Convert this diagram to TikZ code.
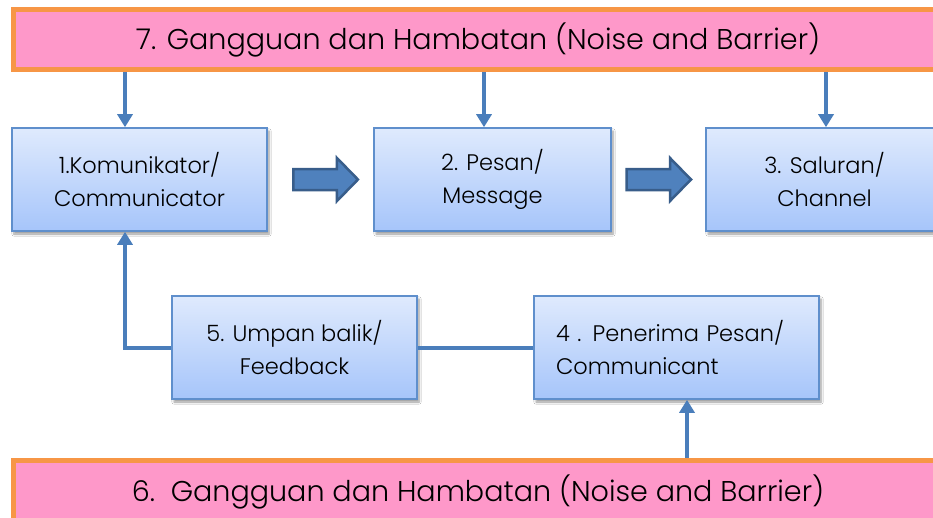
\documentclass[tikz,border=0pt]{standalone}
\usepackage{fontspec}
\setmainfont{Poppins}[UprightFont=* Light]
\usetikzlibrary{arrows.meta,shadows.blur,calc}
\definecolor{barfill}{HTML}{FE98C9}
\definecolor{barline}{HTML}{F79646}
\definecolor{boxtop}{HTML}{DFEAFD}
\definecolor{boxbot}{HTML}{A6C5FA}
\definecolor{boxline}{HTML}{5F8FCC}
\definecolor{linkblue}{HTML}{4A7EBB}
\definecolor{arrfill}{HTML}{4F81BD}
\definecolor{arrline}{HTML}{385D8A}
\tikzset{
  x=1pt, y=-1pt,
  bar/.style={draw=barline, fill=barfill, line width=5pt, rectangle,
    font=\fontsize{28.6}{32}\selectfont, text=black},
  stage/.style={draw=boxline, line width=1.6pt, rectangle,
    top color=boxtop, bottom color=boxbot, align=center,
    font=\fontsize{22.5}{33}\selectfont, text=black},
  stage/.append style={blur shadow={shadow xshift=2pt, shadow yshift=-3pt, shadow blur steps=6, shadow opacity=40}},
  link/.style={draw=linkblue, line width=4pt},
  linkarrow/.style={link, -{Triangle[width=15pt,length=13pt]}},
  blockarrow/.style={draw=arrline, fill=arrfill, line width=2.5pt, line join=miter}
}
\begin{document}
\begin{tikzpicture}
\useasboundingbox (0,0) rectangle (933,517);
\clip (0,0) rectangle (933,517);
\fill[white] (0,0) rectangle (933,517);

% noise bars
\node[bar, minimum width=930, minimum height=60] (noiseT) at (478,39.5)
  {7. Gangguan dan Hambatan (Noise and Barrier)};
\node[bar, minimum width=930, minimum height=64] (noiseB) at (478,492)
  {6.\ \ Gangguan dan Hambatan (Noise and Barrier)};

% stages of the process
\node[stage, minimum width=255, minimum height=103] (comm) at (139.5,179.5)
  {1.Komunikator/\\Communicator};
\node[stage, minimum width=237, minimum height=103] (msg) at (492.5,179.5)
  {2. Pesan/\\Message};
\node[stage, minimum width=237, minimum height=103] (chan) at (824.5,179.5)
  {3. Saluran/\\Channel};
\node[stage, minimum width=245, minimum height=103] (fb) at (294.5,347.5)
  {5. Umpan balik/\\Feedback};
\node[stage, align=left, text width=241, inner xsep=22, minimum height=103] (recv) at (676.5,347.5)
  {4 . Penerima Pesan/\\Communicant};

% x positions of the noise arrows
\coordinate (xa) at (125,0);
\coordinate (xb) at (484,0);
\coordinate (xc) at (826,0);
\coordinate (xd) at (687,0);

\draw[linkarrow] (noiseT.south -| xa) -- (comm.north -| xa);
\draw[linkarrow] (noiseT.south -| xb) -- (msg.north -| xb);
\draw[linkarrow] (noiseT.south -| xc) -- (chan.north -| xc);
\draw[linkarrow] (noiseB.north -| xd) -- (recv.south -| xd);

% feedback loop
\draw[link] (recv.west) -- (fb.east);
\draw[linkarrow] (fb.west) -| (comm.south -| xa);

% block arrows between stages
\path (comm.east) -- coordinate[pos=0.547] (ba1) (msg.west);
\path (msg.east) -- coordinate[pos=0.5] (ba2) (chan.west);
\foreach \c in {ba1,ba2}{
  \draw[blockarrow] (\c) ++(-32,-10.5) -- ++(43.5,0) -- ++(0,-11) -- ++(21,21.5)
    -- ++(-21,21.5) -- ++(0,-11) -- ++(-43.5,0) -- cycle;
}
\end{tikzpicture}
\end{document}
